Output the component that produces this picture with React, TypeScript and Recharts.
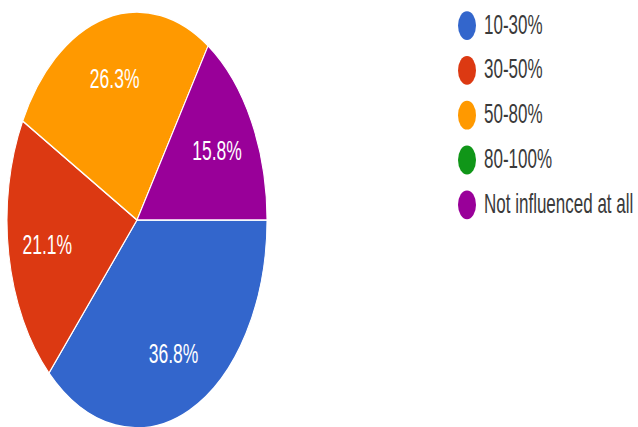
import React from 'react';
import { PieChart, Pie, Cell, Legend } from 'recharts';

const categories = ['10-30%', '30-50%', '50-80%', '80-100%', 'Not influenced at all'];
const counts = [7, 4, 5, 0, 3];
const colors = ['#3366cc', '#dc3912', '#ff9900', '#109618', '#990099'];

const data = categories.map((name, i) => ({ name, value: counts[i] }));

const RAD = Math.PI / 180;
const FONT = '"Liberation Sans", Arial, sans-serif';

const renderLabel = (props: any) => {
  const { cx, cy, midAngle, outerRadius, percent, index } = props;
  if (!percent) return null;
  const r = outerRadius * 0.7;
  const x = cx + r * Math.cos(-midAngle * RAD);
  const y = cy + r * Math.sin(-midAngle * RAD);
  return (
    <text
      key={`l-${index}`}
      x={x}
      y={y}
      fill="#ffffff"
      textAnchor="middle"
      dominantBaseline="central"
      fontFamily={FONT}
      fontSize={17.5}
    >
      {(percent * 100).toFixed(1)}%
    </text>
  );
};

const renderLegend = () => (
  <div style={{ fontFamily: FONT }}>
    {categories.map((c, i) => (
      <div
        key={c}
        style={{ display: 'flex', alignItems: 'center', height: 28.1, whiteSpace: 'nowrap' }}
      >
        <span
          style={{
            display: 'inline-block',
            width: 18,
            height: 18,
            borderRadius: '50%',
            background: colors[i],
            marginRight: 8,
          }}
        />
        <span style={{ fontSize: 17, color: '#3a3a3a' }}>{c}</span>
      </div>
    ))}
  </div>
);

export default function App() {
  return (
    <div
      style={{
        position: 'absolute',
        left: 0,
        top: 0,
        width: 638,
        height: 267,
        transform: 'scaleY(1.6)',
        transformOrigin: '0 0',
        background: '#fff',
        overflow: 'hidden',
      }}
    >
      <PieChart width={638} height={267} margin={{ top: 0, right: 0, bottom: 0, left: 0 }}>
        <Pie
          data={data}
          dataKey="value"
          nameKey="name"
          cx={137}
          cy={137.5}
          outerRadius={130}
          startAngle={0}
          endAngle={-360}
          stroke="#ffffff"
          strokeWidth={1}
          label={renderLabel}
          labelLine={false}
          isAnimationActive={false}
        >
          {data.map((d, i) => (
            <Cell key={d.name} fill={colors[i]} />
          ))}
        </Pie>
        <Legend
          layout="vertical"
          verticalAlign="top"
          align="right"
          content={renderLegend}
          wrapperStyle={{ left: 458, right: 'auto', top: 2, width: 180 }}
        />
      </PieChart>
    </div>
  );
}
